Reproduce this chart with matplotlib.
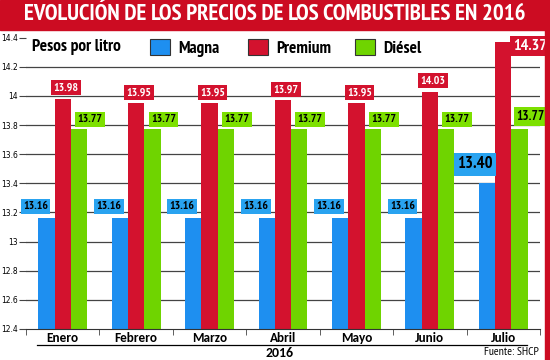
import numpy as np
import matplotlib.pyplot as plt
from matplotlib import font_manager as fm
from matplotlib.patches import Patch, Rectangle
from matplotlib.lines import Line2D

# Datos (pesos por litro, 2016)
meses = ['Enero', 'Febrero', 'Marzo', 'Abril', 'Mayo', 'Junio', 'Julio']
magna = [13.16, 13.16, 13.16, 13.16, 13.16, 13.16, 13.40]
premium = [13.98, 13.95, 13.95, 13.97, 13.95, 14.03, 14.37]
diesel = [13.77, 13.77, 13.77, 13.77, 13.77, 13.77, 13.77]
yticks = [12.4, 12.6, 12.8, 13, 13.2, 13.4, 13.6, 13.8, 14, 14.2, 14.4]
ytick_labels = ['12.4', '12.6', '12.8', '13', '13.2', '13.4', '13.6', '13.8', '14', '14.2', '14.4']

azul = '#1e8ff0'
rojo = '#d3122e'
verde = '#6fd400'
rojo_titulo = '#cc0c22'

disponibles = set(f.name for f in fm.fontManager.ttflist)

def elegir(opciones):
    for o in opciones:
        if o in disponibles:
            return [o, 'DejaVu Sans']
    return ['DejaVu Sans']

cond = elegir(['PT Sans Narrow', 'Roboto Condensed', 'Open Sans Condensed',
               'Archivo Narrow', 'Liberation Sans Narrow', 'Arial Narrow',
               'DejaVu Sans Condensed'])
calibri = elegir(['Carlito', 'Calibri', 'Lato', 'Liberation Sans'])
plt.rcParams['font.family'] = calibri

fig = plt.figure(figsize=(5.5, 3.6), dpi=100)
W, H = 550, 360
ax = fig.add_axes([26 / W, 1 - 329 / H, (540 - 26) / W, (329 - 37.6) / H])

x = np.arange(len(meses))
w = 0.222
ax.bar(x - w, magna, w, color=azul, zorder=2)
ax.bar(x, premium, w, color=rojo, zorder=2)
ax.bar(x + w, diesel, w, color=verde, zorder=2)

ax.set_ylim(12.4, 14.4)
ax.set_xlim(-0.5, len(meses) - 0.5)
ax.set_yticks(yticks)
ax.set_yticklabels(ytick_labels, fontsize=5.5, family=['DejaVu Sans'])
for v in yticks[1:-1]:
    ax.axhline(v, color='#444444', lw=0.9, zorder=1)

ax.set_xticks(x)
ax.set_xticklabels(meses, fontsize=9.5, fontweight='bold')
ax.set_xticks(np.arange(-0.5, len(meses)), minor=True)
ax.tick_params(axis='x', which='major', length=0, pad=2)
ax.tick_params(axis='x', which='minor', length=4, color='#444444')
ax.tick_params(axis='y', length=5, color='#444444', pad=1)
for s in ['top', 'right', 'left']:
    ax.spines[s].set_visible(False)
ax.spines['bottom'].set_color('#333333')

def etiqueta(xv, yv, txt, dx, dy, fc, tc, fs=8.5):
    ax.annotate(txt, (xv, yv), xytext=(dx, dy), textcoords='offset pixels',
                ha='center', va='center', fontsize=fs, fontweight='bold',
                family=cond, color=tc, zorder=5, annotation_clip=False,
                bbox=dict(boxstyle='square,pad=0.2', fc=fc, ec='none'))

for i in range(len(meses)):
    if i == len(meses) - 1:
        etiqueta(x[i] - w, magna[i], f'{magna[i]:.2f}', -12, 19, '#29a3f0', 'black', 12)
        etiqueta(x[i], premium[i], f'{premium[i]:.2f}', 27, -4, rojo, 'white', 11.5)
        etiqueta(x[i] + w, diesel[i], f'{diesel[i]:.2f}', 11, 13, '#7de000', 'black', 9.5)
    else:
        etiqueta(x[i] - w, magna[i], f'{magna[i]:.2f}', -11, 12, '#29a3f0', 'black')
        etiqueta(x[i], premium[i], f'{premium[i]:.2f}', 3, 11, rojo, 'white')
        etiqueta(x[i] + w, diesel[i], f'{diesel[i]:.2f}', 11, 10, '#7de000', 'black')

# Barra del título y borde derecho
fig.patches.append(Rectangle((0, 1 - 30 / H), 1, 30 / H, transform=fig.transFigure,
                             color=rojo_titulo, zorder=0))
fig.patches.append(Rectangle((545 / W, 0), 5 / W, 1, transform=fig.transFigure,
                             color=rojo_titulo, zorder=0))
fig.text(275 / W, 1 - 15 / H, 'EVOLUCIÓN DE LOS PRECIOS DE LOS COMBUSTIBLES EN 2016',
         ha='center', va='center', color='white', fontsize=16.5, fontweight='bold',
         family=cond)

# Leyenda
fig.text(32 / W, 1 - 47 / H, 'Pesos por litro', ha='left', va='center',
         fontsize=12.5, fontweight='bold', family=cond)
series = [('Magna', azul, 150), ('Premium', rojo, 248), ('Diésel', verde, 355)]
for nombre, color, px in series:
    fig.legend(handles=[Patch(fc=color, ec='#333333', lw=0.8, label=nombre)],
               loc='center left', bbox_to_anchor=(px / W, 1 - 48 / H),
               frameon=False, prop=dict(size=12.5, weight='bold', family=cond),
               handlelength=1.15, handleheight=1.0, handletextpad=0.5,
               borderpad=0, borderaxespad=0)

# Pie
fig.lines.append(Line2D([37 / W, 527 / W], [1 - 345 / H, 1 - 345 / H],
                        transform=fig.transFigure, color='black', lw=0.9))
fig.text(280 / W, 1 - 353 / H, '2016', ha='center', va='center', fontsize=10,
         fontweight='bold')
fig.text(539 / W, 1 - 352 / H, 'Fuente: SHCP', ha='right', va='center', fontsize=8.5,
         family=cond)

fig.savefig('out.png', dpi=100)
